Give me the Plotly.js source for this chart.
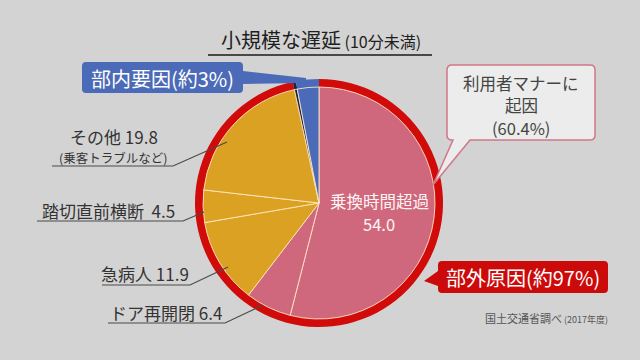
<!DOCTYPE html>
<html>
<head>
<meta charset="utf-8">
<script src="https://cdn.plot.ly/plotly-3.0.1.min.js"></script>
<style>html,body{margin:0;padding:0;background:#d3d3d3;}#chart{width:640px;height:360px;}</style>
</head>
<body>
<div id="chart"></div>
<script>
// ---- data ----
const sliceLabels = ['乗換時間超過', 'ドア再開閉', '急病人', '踏切直前横断', 'その他', '部内(境界)', '部内要因'];
const sliceValues = [54.0, 6.4, 11.9, 4.5, 19.8, 0.4, 3.0];
const sliceColors = ['#cf687d', '#cf687d', '#dba122', '#dba122', '#dba122', '#1c2340', '#4b6ab7'];
const groupLabels = ['部外原因', '部内(境界)', '部内要因'];
const groupValues = [96.6, 0.4, 3.0];
const groupColors = ['#d10a0a', '#1c2340', '#4b6ab7'];
const titleMain = '小規模な遅延';
const titleSub = '(10分未満)';
const otherNote = '(乗客トラブルなど)';
const outsideLabel = '部外原因(約97%)';
const insideLabel = '部内要因(約3%)';
const mannerLines = ['利用者マナーに', '起因', '(60.4%)'];
const sourceMain = '国土交通省調べ';
const sourceSub = ' (2017年度)';

const W = 640, H = 360;
const px = x => x / W;
const py = y => 1 - y / H;
const FONT = '"Noto Sans CJK JP", "Noto Sans", sans-serif';

// pie geometry (pixels)
const cx = 319, cy = 203, rOuter = 124, rInner = 116;
function dom(r) {
  return { x: [px(cx - r), px(cx + r)], y: [py(cy + r), py(cy - r)] };
}

const outerPie = {
  type: 'pie', labels: groupLabels, values: groupValues, sort: false,
  direction: 'clockwise', rotation: 0, domain: dom(rOuter),
  marker: { colors: groupColors, line: { width: 0 } },
  textinfo: 'none', hoverinfo: 'none', showlegend: false
};
const innerPie = {
  type: 'pie', labels: sliceLabels, values: sliceValues, sort: false,
  direction: 'clockwise', rotation: 0, domain: dom(rInner),
  marker: { colors: sliceColors, line: { color: 'rgba(255,236,200,0.85)', width: 1 } },
  textinfo: 'none', hoverinfo: 'none', showlegend: false
};

function pathFrom(cmds) {
  let s = '';
  for (const c of cmds) {
    if (c[0] === 'Z') { s += ' Z'; continue; }
    if (c[0] === 'Q') { s += ` Q ${px(c[1])},${py(c[2])} ${px(c[3])},${py(c[4])}`; continue; }
    s += ` ${c[0]} ${px(c[1])},${py(c[2])}`;
  }
  return s.trim();
}
function boxWithTail(x0, y0, x1, y1, r, side, tail) {
  const c = [['M', x0 + r, y0], ['L', x1 - r, y0], ['Q', x1, y0, x1, y0 + r]];
  if (side === 'right') tail.forEach(p => c.push(['L', p[0], p[1]]));
  c.push(['L', x1, y1 - r], ['Q', x1, y1, x1 - r, y1]);
  if (side === 'bottom') tail.forEach(p => c.push(['L', p[0], p[1]]));
  c.push(['L', x0 + r, y1], ['Q', x0, y1, x0, y1 - r]);
  if (side === 'left') tail.forEach(p => c.push(['L', p[0], p[1]]));
  c.push(['L', x0, y0 + r], ['Q', x0, y0, x0 + r, y0], ['Z']);
  return pathFrom(c);
}

const shapes = [];
// title underline
shapes.push({ type: 'line', xref: 'paper', yref: 'paper', x0: px(208), x1: px(432), y0: py(55), y1: py(55), line: { color: '#1a1a1a', width: 1.6 } });
// leader lines for left labels
const leaders = [
  [[52, 166], [173, 166], [227, 142]],
  [[37, 221], [183, 221], [204, 212]],
  [[102, 285], [190, 285], [228, 267]],
  [[108, 323], [225, 323], [263, 305]]
];
leaders.forEach(l => {
  shapes.push({ type: 'path', xref: 'paper', yref: 'paper', layer: 'above',
    path: pathFrom([['M', l[0][0], l[0][1]], ['L', l[1][0], l[1][1]], ['L', l[2][0], l[2][1]]]),
    line: { color: '#4a4a4a', width: 1.2 } });
});
// blue callout
shapes.push({ type: 'path', xref: 'paper', yref: 'paper', layer: 'above',
  path: boxWithTail(82, 62, 243, 93, 4, 'right', [[243, 71], [306, 78], [306, 83], [243, 84]]),
  fillcolor: '#4b6ab7', line: { width: 0 } });
// red callout
shapes.push({ type: 'path', xref: 'paper', yref: 'paper', layer: 'above',
  path: boxWithTail(438, 261, 608, 293, 4, 'left', [[438, 286], [424, 281], [438, 271]]),
  fillcolor: '#cc0a0a', line: { width: 0 } });
// manner callout
shapes.push({ type: 'path', xref: 'paper', yref: 'paper', layer: 'above',
  path: boxWithTail(447, 65, 595, 140, 5, 'bottom', [[470, 140], [433, 185], [453, 140]]),
  fillcolor: '#ececec', line: { color: '#cf7889', width: 1.5 } });

const annotations = [];
function ann(x, y, text, size, color, extra) {
  annotations.push(Object.assign({ xref: 'paper', yref: 'paper', x: px(x), y: py(y), text: text,
    showarrow: false, xanchor: 'center', yanchor: 'middle', borderpad: 0,
    font: { family: FONT, size: size, color: color } }, extra || {}));
}
ann(321, 39, titleMain + `<span style="font-size:16px"> ${titleSub}</span>`, 20, '#1e1e1e');
ann(162, 78, insideLabel, 20, '#ffffff');
ann(523, 277, outsideLabel, 20, '#ffffff');
ann(521, 83, mannerLines[0], 16.5, '#444444');
ann(521, 105, mannerLines[1], 16.5, '#444444');
ann(521, 128, mannerLines[2], 16.5, '#444444');
ann(546, 318, sourceMain + `<span style="font-size:9px">${sourceSub}</span>`, 11, '#555555');
// inner big label
ann(379, 201, sliceLabels[0], 16.5, '#fff4f4');
ann(379, 224, sliceValues[0].toFixed(1), 16.5, '#fff4f4');
// left labels
ann(114, 136, `${sliceLabels[4]} ${sliceValues[4].toFixed(1)}`, 17, '#333333');
ann(113, 157, otherNote, 12.5, '#333333');
ann(108, 210, `${sliceLabels[3]}  ${sliceValues[3].toFixed(1)}`, 17, '#333333');
ann(145, 273, `${sliceLabels[2]} ${sliceValues[2].toFixed(1)}`, 17, '#333333');
ann(166, 312, `${sliceLabels[1]} ${sliceValues[1].toFixed(1)}`, 17, '#333333');

const layout = {
  width: W, height: H, margin: { l: 0, r: 0, t: 0, b: 0 },
  paper_bgcolor: '#d3d3d3', plot_bgcolor: '#d3d3d3',
  showlegend: false, shapes: shapes, annotations: annotations,
  font: { family: FONT }
};
Plotly.newPlot('chart', [outerPie, innerPie], layout, { displayModeBar: false, staticPlot: true });
</script>
</body>
</html>
